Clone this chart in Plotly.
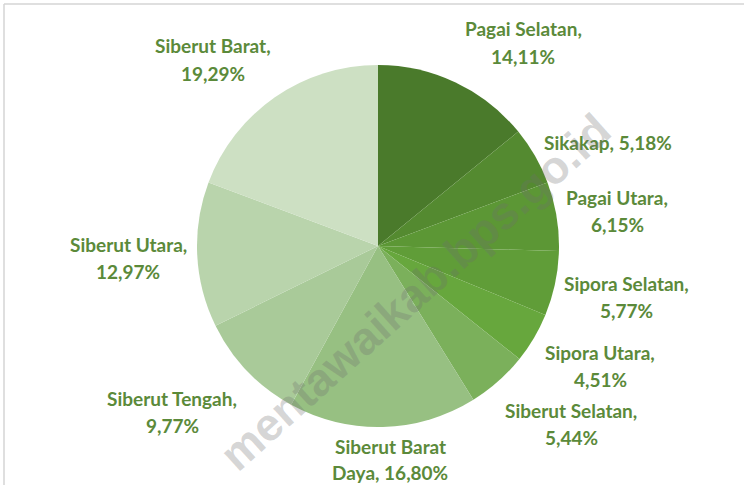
import plotly.graph_objects as go

# ---- data ----
districts = ["Pagai Selatan", "Sikakap", "Pagai Utara", "Sipora Selatan", "Sipora Utara",
             "Siberut Selatan", "Siberut Barat Daya", "Siberut Tengah", "Siberut Utara", "Siberut Barat"]
shares = [14.11, 5.18, 6.15, 5.77, 4.51, 5.44, 16.80, 9.77, 12.97, 19.29]
colors = ["#4a7a2b", "#548a30", "#5c9735", "#609d38", "#67a73d",
          "#7bb05b", "#97c082", "#a9ca99", "#b9d4ac", "#cde0c3"]

# ---- layout helpers (pixel positions of label centres) ----
W, H = 744, 485
label_pos = {
    "Pagai Selatan": (523, 28, 56),
    "Sikakap": (608, 142, None),
    "Pagai Utara": (617, 197, 224),
    "Sipora Selatan": (626, 283, 310),
    "Sipora Utara": (600, 352, 379),
    "Siberut Selatan": (571, 410, 437),
    "Siberut Barat Daya": (390, 446, 472),
    "Siberut Tengah": (172, 398, 425),
    "Siberut Utara": (128, 244, 271),
    "Siberut Barat": (213, 45, 73),
}
text_color = "#5b8a3a"
label_font = dict(family="Lato", size=19, color=text_color, weight=700)


def fmt(v):
    return f"{v:.2f}".replace(".", ",") + "%"


fig = go.Figure()
cx, cy, r = 378, 246, 181
fig.add_trace(go.Pie(
    labels=districts, values=shares, sort=False, direction="clockwise", rotation=0,
    marker=dict(colors=colors, line=dict(width=0)),
    textinfo="none", hoverinfo="label+percent", showlegend=False,
    domain=dict(x=[(cx - r) / W, (cx + r) / W], y=[1 - (cy + r) / H, 1 - (cy - r) / H]),
))

annotations = []
for name, val in zip(districts, shares):
    x, y1, y2 = label_pos[name]
    if y2 is None:
        lines = [(f"{name}, {fmt(val)}", y1)]
    elif name == "Siberut Barat Daya":
        lines = [("Siberut Barat", y1), (f"Daya, {fmt(val)}", y2)]
    else:
        lines = [(f"{name},", y1), (fmt(val), y2)]
    for t, yy in lines:
        annotations.append(dict(x=x / W, y=1 - yy / H, xref="paper", yref="paper",
                                text=t, showarrow=False, font=label_font,
                                xanchor="center", yanchor="middle"))

# watermark
annotations.append(dict(x=415 / W, y=1 - 292 / H, xref="paper", yref="paper",
                        text="mentawaikab.bps.go.id", showarrow=False, textangle=-42,
                        font=dict(family="Liberation Sans", size=46, weight=700,
                                  color="rgba(110,110,110,0.28)"),
                        xanchor="center", yanchor="middle"))

shapes = [
    dict(type="line", xref="paper", yref="paper", x0=4 / W, x1=1, y0=1 - 4 / H, y1=1 - 4 / H,
         line=dict(color="#d4d4d4", width=1.5)),
    dict(type="line", xref="paper", yref="paper", x0=4 / W, x1=4 / W, y0=0, y1=1 - 4 / H,
         line=dict(color="#d4d4d4", width=1.5)),
]

fig.update_layout(width=W, height=H, margin=dict(l=0, r=0, t=0, b=0),
                  paper_bgcolor="white", plot_bgcolor="white",
                  annotations=annotations, shapes=shapes)
fig.write_html("out.html", config={"displayModeBar": False},
               post_script="document.body.style.margin='0';document.body.style.padding='0';")
